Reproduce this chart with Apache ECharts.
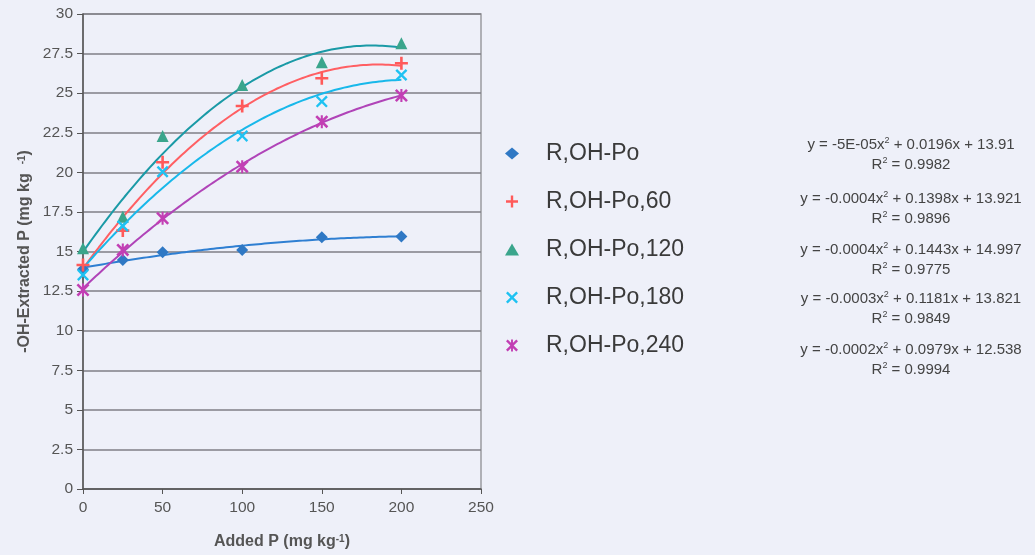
<!DOCTYPE html>
<html>
<head>
<meta charset="utf-8">
<script src="https://cdn.jsdelivr.net/npm/echarts@6/dist/echarts.min.js"></script>
<style>
  html, body { margin: 0; padding: 0; background: #eef0f9; }
  #chart { width: 1035px; height: 555px; }
</style>
</head>
<body>
<div id="chart"></div>
<script>
// Added P levels (mg/kg)
const addedP = [0, 25, 50, 100, 150, 200];

// -OH-extracted P (mg/kg) for each incubation treatment
const seriesNames = ['R,OH-Po', 'R,OH-Po,60', 'R,OH-Po,120', 'R,OH-Po,180', 'R,OH-Po,240'];
const ohPo    = [13.88, 14.47, 14.95, 15.10, 15.90, 15.94];
const ohPo60  = [14.15, 16.32, 20.64, 24.19, 25.94, 26.89];
const ohPo120 = [15.20, 17.20, 22.30, 25.52, 26.95, 28.16];
const ohPo180 = [13.52, 16.61, 20.04, 22.30, 24.47, 26.15];
const ohPo240 = [12.57, 15.10, 17.10, 20.36, 23.20, 24.85];

// Trendline equations shown beside the legend: [a, b, c, R2]
const eqLines = [
  ['-5E-05', '0.0196', '13.91', '0.9982'],
  ['-0.0004', '0.1398', '13.921', '0.9896'],
  ['-0.0004', '0.1443', '14.997', '0.9775'],
  ['-0.0003', '0.1181', '13.821', '0.9849'],
  ['-0.0002', '0.0979', '12.538', '0.9994']
];

const yTicks = { min: 0, max: 30, interval: 2.5 };
const xTicks = { min: 0, max: 250, interval: 50 };

const allValues = [ohPo, ohPo60, ohPo120, ohPo180, ohPo240];

const markerColors = ['#2f78c4', '#ff5a5a', '#3aa58c', '#1ec2f2', '#c23fb4'];
const lineColors   = ['#2f7fd2', '#ff5f63', '#1a9aa6', '#18b8ea', '#b044b8'];

const plusPath = 'path://M4,0L6,0L6,4L10,4L10,6L6,6L6,10L4,10L4,6L0,6L0,4L4,4Z';
const xPath = 'path://M0,1.4L1.4,0L5,3.6L8.6,0L10,1.4L6.4,5L10,8.6L8.6,10L5,6.4L1.4,10L0,8.6L3.6,5Z';
const starPath = 'path://M0,1.4L1.4,0L5,3.6L8.6,0L10,1.4L6.4,5L10,8.6L8.6,10L5,6.4L1.4,10L0,8.6L3.6,5Z M4.2,0L5.8,0L5.8,10L4.2,10Z';
const symbols = ['diamond', plusPath, 'triangle', xPath, starPath];
const symbolSizes = [12, 13, 12, 12, 13];

// Least-squares quadratic fit (2nd-order polynomial trendline)
function quadFit(xs, ys) {
  let n = xs.length, s = [0, 0, 0, 0, 0], t = [0, 0, 0];
  for (let i = 0; i < n; i++) {
    let p = 1;
    for (let k = 0; k < 5; k++) { s[k] += p; p *= xs[i]; }
    t[0] += ys[i]; t[1] += ys[i] * xs[i]; t[2] += ys[i] * xs[i] * xs[i];
  }
  const M = [[s[0], s[1], s[2], t[0]], [s[1], s[2], s[3], t[1]], [s[2], s[3], s[4], t[2]]];
  for (let c = 0; c < 3; c++) {
    for (let r = c + 1; r < 3; r++) {
      const f = M[r][c] / M[c][c];
      for (let k = c; k < 4; k++) M[r][k] -= f * M[c][k];
    }
  }
  const b = [0, 0, 0];
  for (let r = 2; r >= 0; r--) {
    let v = M[r][3];
    for (let k = r + 1; k < 3; k++) v -= M[r][k] * b[k];
    b[r] = v / M[r][r];
  }
  return b; // c0 + c1 x + c2 x^2
}

function trendPoints(ys) {
  const b = quadFit(addedP, ys);
  const pts = [];
  for (let x = addedP[0]; x <= addedP[addedP.length - 1]; x += 2) {
    pts.push([x, b[0] + b[1] * x + b[2] * x * x]);
  }
  return pts;
}

const series = [];
allValues.forEach((vals, i) => {
  series.push({
    name: seriesNames[i] + ' trend',
    type: 'line',
    data: trendPoints(vals),
    showSymbol: false,
    lineStyle: { color: lineColors[i], width: 2 },
    silent: true,
    z: 2
  });
});
allValues.forEach((vals, i) => {
  series.push({
    name: seriesNames[i],
    type: 'scatter',
    data: addedP.map((x, j) => [x, vals[j]]),
    symbol: symbols[i],
    symbolSize: symbolSizes[i],
    itemStyle: { color: markerColors[i], opacity: 1 },
    z: 3
  });
});

// Equation block placement
const eqX = 911;
const eqTop = [135, 189, 240, 289, 340];

const textColor = '#444';
const eqFont = '"Liberation Sans", Arial, sans-serif';
const eqGraphics = eqLines.map((e, i) => ({
  type: 'text',
  x: eqX,
  y: eqTop[i],
  style: {
    text: '{n|y = ' + e[0] + 'x}{s|2}{n| + ' + e[1] + 'x + ' + e[2] + '}\n{n|R}{s|2}{n| = ' + e[3] + '}',
    align: 'center',
    fill: textColor,
    font: '15px ' + eqFont,
    rich: {
      n: { fontSize: 15, lineHeight: 20, fontFamily: eqFont, fill: textColor, color: textColor },
      s: { fontSize: 9, lineHeight: 20, verticalAlign: 'top', padding: [1, 0, 0, 0], fontFamily: eqFont, fill: textColor, color: textColor }
    }
  }
}));

const chart = echarts.init(document.getElementById('chart'));
chart.setOption({
  backgroundColor: '#eef0f9',
  animation: false,
  textStyle: { fontFamily: '"Liberation Sans", Arial, sans-serif' },
  grid: {
    left: 83, right: 1035 - 481, top: 14, bottom: 555 - 489,
    show: true, borderColor: '#9a9aa0', borderWidth: 1.5, backgroundColor: 'transparent'
  },
  legend: {
    data: seriesNames,
    orient: 'vertical',
    left: 500,
    top: 137,
    itemGap: 25,
    itemWidth: 14,
    itemHeight: 12,
    textStyle: { fontSize: 23, color: '#3a3a3a', padding: [0, 0, 0, 22] },
    selectedMode: false
  },
  xAxis: {
    type: 'value',
    min: xTicks.min, max: xTicks.max, interval: xTicks.interval,
    name: '{b|Added P (mg kg}{sup|-1}{b|)}',
    nameLocation: 'middle',
    nameGap: 45,
    nameTextStyle: {
      rich: {
        b: { fontSize: 16, fontWeight: 'bold', color: '#555' },
        sup: { fontSize: 10, fontWeight: 'bold', color: '#555', verticalAlign: 'top', lineHeight: 16 }
      }
    },
    axisLine: { show: true, onZero: false, lineStyle: { color: '#555', width: 1.5 } },
    axisTick: { show: true, length: 5, lineStyle: { color: '#555' } },
    axisLabel: { fontSize: 15.5, color: '#555', margin: 11 },
    splitLine: { show: false }
  },
  yAxis: {
    type: 'value',
    min: yTicks.min, max: yTicks.max, interval: yTicks.interval,
    name: '{b|-OH-Extracted P (mg kg  }{sup|-1}{b|)}',
    nameLocation: 'middle',
    nameRotate: 90,
    nameGap: 50,
    nameTextStyle: {
      rich: {
        b: { fontSize: 16, fontWeight: 'bold', color: '#555' },
        sup: { fontSize: 10, fontWeight: 'bold', color: '#555', verticalAlign: 'top', lineHeight: 16 }
      }
    },
    axisLine: { show: true, onZero: false, lineStyle: { color: '#555', width: 1.5 } },
    axisTick: { show: true, length: 6, lineStyle: { color: '#555' } },
    axisLabel: { fontSize: 15.5, color: '#555', margin: 10 },
    splitLine: { show: true, lineStyle: { color: '#7f7f86', width: 1.5 } }
  },
  graphic: eqGraphics,
  series: series
});
</script>
</body>
</html>
